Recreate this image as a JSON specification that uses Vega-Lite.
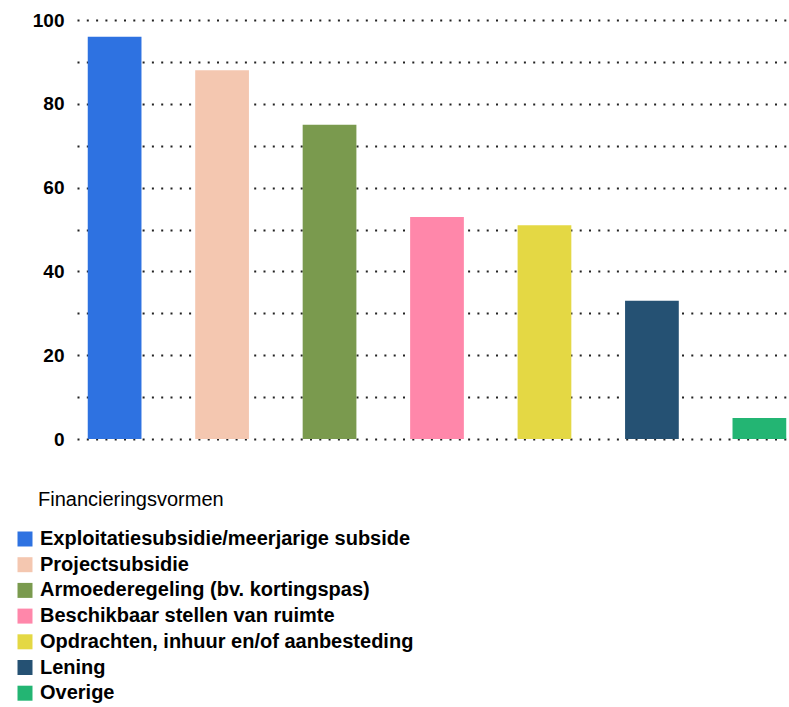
{
  "$schema": "https://vega.github.io/schema/vega-lite/v6.json",
  "width": 712,
  "height": 419,
  "autosize": "none",
  "padding": {"left": 77, "top": 20, "right": 0, "bottom": 268},
  "background": "white",
  "config": {
    "view": {"stroke": null},
    "font": "Liberation Sans"
  },
  "data": {
    "values": [
      {"vorm": "Exploitatiesubsidie/meerjarige subside", "waarde": 96},
      {"vorm": "Projectsubsidie", "waarde": 88},
      {"vorm": "Armoederegeling (bv. kortingspas)", "waarde": 75},
      {"vorm": "Beschikbaar stellen van ruimte", "waarde": 53},
      {"vorm": "Opdrachten, inhuur en/of aanbesteding", "waarde": 51},
      {"vorm": "Lening", "waarde": 33},
      {"vorm": "Overige", "waarde": 5}
    ]
  },
  "mark": {"type": "bar"},
  "encoding": {
    "x": {
      "field": "vorm",
      "type": "nominal",
      "sort": null,
      "scale": {"range": [0, 720], "paddingInner": 0.5, "paddingOuter": 0.1},
      "axis": null
    },
    "y": {
      "field": "waarde",
      "type": "quantitative",
      "scale": {"domain": [0, 100], "nice": false},
      "axis": {
        "title": null,
        "values": [0, 10, 20, 30, 40, 50, 60, 70, 80, 90, 100],
        "labelExpr": "datum.value % 20 == 0 ? datum.label : ''",
        "ticks": false,
        "domain": false,
        "grid": true,
        "gridColor": "#222222",
        "gridDash": [2, 7.3],
        "gridWidth": 2,
        "labelFont": "Liberation Sans",
        "labelFontWeight": "bold",
        "labelFontSize": 19,
        "labelColor": "#000000",
        "labelPadding": 13
      }
    },
    "color": {
      "field": "vorm",
      "type": "nominal",
      "sort": null,
      "scale": {
        "range": ["#2E72E1", "#F4C7B0", "#7A9A4E", "#FF87AA", "#E4D844", "#255173", "#23B573"]
      },
      "legend": {
        "orient": "none",
        "legendX": -62,
        "legendY": 470,
        "direction": "vertical",
        "title": "Financieringsvormen",
        "titleFont": "Liberation Sans",
        "titleFontWeight": "normal",
        "titleFontSize": 20,
        "titleColor": "#000000",
        "titleLimit": 500,
        "titlePadding": 19,
        "symbolType": "square",
        "symbolSize": 225,
        "symbolStrokeWidth": 0,
        "labelFont": "Liberation Sans",
        "labelFontWeight": "bold",
        "labelFontSize": 20,
        "labelColor": "#000000",
        "labelLimit": 600,
        "labelOffset": 5,
        "rowPadding": 5.7,
        "encode": {
          "title": {"update": {"dx": {"value": 23}}}
        }
      }
    }
  }
}
